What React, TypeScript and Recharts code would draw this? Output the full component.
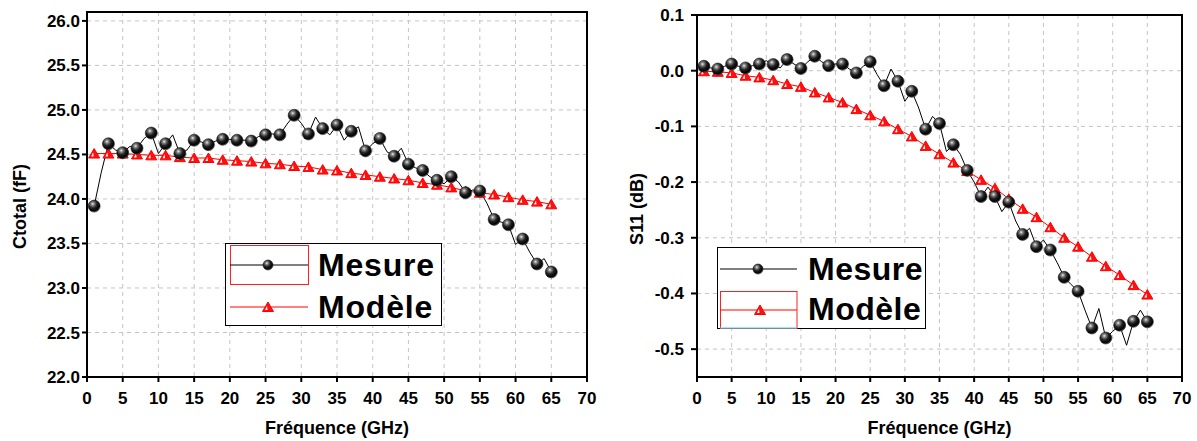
import { LineChart, Line, XAxis, YAxis, CartesianGrid, Legend, ReferenceArea } from 'recharts';

const freqs = [
    1, 2, 3, 4, 5, 6, 7, 8, 9, 10, 11, 12, 13, 14, 15, 16, 17, 18, 19, 20, 21, 22,
    23, 24, 25, 26, 27, 28, 29, 30, 31, 32, 33, 34, 35, 36, 37, 38, 39, 40, 41, 42, 43,
    44, 45, 46, 47, 48, 49, 50, 51, 52, 53, 54, 55, 56, 57, 58, 59, 60, 61, 62, 63, 64, 65,
];
const modelFreqs = [
    1, 3, 5, 7, 9, 11, 13, 15, 17, 19, 21, 23, 25, 27, 29, 31, 33, 35, 37, 39, 41, 43, 45,
    47, 49, 51, 53, 55, 57, 59, 61, 63, 65,
];

const ctotalMesure = [
    23.92, 24.3, 24.62, 24.55, 24.52, 24.59, 24.57, 24.68, 24.74, 24.51, 24.62, 24.72, 24.51,
    24.55, 24.66, 24.64, 24.61, 24.65, 24.67, 24.67, 24.66, 24.66, 24.65, 24.7, 24.72, 24.73,
    24.72, 24.84, 24.94, 24.85, 24.73, 24.92, 24.79, 24.72, 24.83, 24.66, 24.76, 24.81, 24.54,
    24.62, 24.68, 24.53, 24.48, 24.57, 24.39, 24.35, 24.32, 24.25, 24.21, 24.17, 24.25, 24.19,
    24.07, 24.1, 24.09, 23.95, 23.77, 23.74, 23.71, 23.49, 23.55, 23.4, 23.27, 23.33, 23.18,
];
const ctotalModele = [
    24.51, 24.51, 24.51, 24.5, 24.49, 24.49, 24.47, 24.46, 24.46, 24.44, 24.43, 24.42, 24.4,
    24.39, 24.37, 24.36, 24.33, 24.32, 24.29, 24.27, 24.25, 24.23, 24.21, 24.18, 24.16, 24.13,
    24.09, 24.07, 24.05, 24.02, 23.99, 23.97, 23.94,
];

const s11Mesure = [
    0.008, 0.005, 0.003, 0.008, 0.012, 0.008, 0.005, 0.009, 0.012, 0.018, 0.011, 0.005, 0.02,
    0.012, 0.004, 0.016, 0.026, 0.016, 0.009, 0.012, 0.012, 0.003, -0.004, 0.008, 0.016, -0.007,
    -0.027, 0.003, -0.019, -0.055, -0.037, -0.067, -0.105, -0.082, -0.095, -0.145, -0.133, -0.15,
    -0.179, -0.2, -0.226, -0.209, -0.226, -0.253, -0.236, -0.27, -0.294, -0.283, -0.316, -0.304,
    -0.322, -0.345, -0.371, -0.384, -0.396, -0.43, -0.462, -0.427, -0.48, -0.468, -0.457, -0.493,
    -0.45, -0.43, -0.451,
];
const s11Modele = [
    -0.001, -0.002, -0.004, -0.009, -0.012, -0.017, -0.024, -0.029, -0.039, -0.048, -0.057,
    -0.069, -0.08, -0.091, -0.105, -0.118, -0.135, -0.15, -0.165, -0.18, -0.196, -0.211, -0.23,
    -0.248, -0.263, -0.281, -0.3, -0.316, -0.334, -0.351, -0.367, -0.385, -0.402,
];

const xTicks = [0, 5, 10, 15, 20, 25, 30, 35, 40, 45, 50, 55, 60, 65, 70];
const ctotalTicks = [22, 22.5, 23, 23.5, 24, 24.5, 25, 25.5, 26];
const s11Ticks = [-0.5, -0.4, -0.3, -0.2, -0.1, 0, 0.1];

const FONT = '"Liberation Sans", Arial, sans-serif';
const tickStyle = { fill: '#000', fontSize: 17, fontWeight: 700, fontFamily: FONT };
const gridColor = '#c4c4c4';

function buildRows(mesure: number[], modele: number[]) {
    return freqs.map((f, i) => {
        const j = modelFreqs.indexOf(f);
        return { f, mesure: mesure[i], modele: j >= 0 ? modele[j] : null };
    });
}

const ctotalRows = buildRows(ctotalMesure, ctotalModele);
const s11Rows = buildRows(s11Mesure, s11Modele);

function Ball({ cx, cy, r = 6 }: { cx: number; cy: number; r?: number }) {
    return <circle cx={cx} cy={cy} r={r} fill="url(#ball)" stroke="#1a1a1a" strokeWidth={0.6} />;
}

function Tri({ cx, cy }: { cx: number; cy: number }) {
    return (
        <g>
            <polygon points={`${cx - 5.5},${cy + 4.5} ${cx + 5.5},${cy + 4.5} ${cx},${cy - 5}`} fill="#ff1010" stroke="#ff0000" strokeWidth={1} />
            <polygon points={`${cx - 3},${cy + 3} ${cx - 0.5},${cy + 3} ${cx - 1},${cy - 1}`} fill="#fff" />
        </g>
    );
}

const ballDot = (props: any) => {
    const { cx, cy, payload, index } = props;
    if (cx == null || cy == null || payload.f % 2 === 0) return <g key={`b${index}`} />;
    return <Ball key={`b${index}`} cx={cx} cy={cy} />;
};

const triDot = (props: any) => {
    const { cx, cy, payload, index } = props;
    if (cx == null || cy == null || payload.modele == null) return <g key={`t${index}`} />;
    return <Tri key={`t${index}`} cx={cx} cy={cy} />;
};

const xLabel = (text: string) => (props: any) => {
    const vb = props.viewBox;
    return (
        <text x={vb.x + vb.width / 2} y={vb.y + 57} textAnchor="middle" fill="#000" fontSize={18} fontWeight={700} fontFamily={FONT}>
            {text}
        </text>
    );
};

const yLabel = (text: string, x: number, shift: number) => (props: any) => {
    const vb = props.viewBox;
    const cy = vb.y + vb.height / 2 + shift;
    return (
        <text x={x} y={cy} transform={`rotate(-90 ${x} ${cy})`} textAnchor="middle" fill="#000" fontSize={18} fontWeight={700} fontFamily={FONT}>
            {text}
        </text>
    );
};

function LegendLeft() {
    return (
        <svg width={217} height={83} style={{ display: 'block' }}>
            <rect x={0.5} y={0.5} width={216} height={82} fill="#fff" stroke="#000" strokeWidth={1} />
            <rect x={5.5} y={2.5} width={78} height={39} fill="none" stroke="#ff2020" strokeWidth={1} />
            <line x1={5} x2={83} y1={22} y2={22} stroke="#000" strokeWidth={1} />
            <Ball cx={43} cy={22} r={5} />
            <line x1={5} x2={83} y1={64} y2={64} stroke="#ff0000" strokeWidth={1} />
            <Tri cx={43} cy={64} />
            <text x={93} y={33} fontSize={32} fontWeight={700} fontFamily={FONT} letterSpacing={0.8}>Mesure</text>
            <text x={93} y={75} fontSize={32} fontWeight={700} fontFamily={FONT} letterSpacing={0.8}>Modèle</text>
        </svg>
    );
}

function LegendRight() {
    return (
        <svg width={209} height={82} style={{ display: 'block' }}>
            <rect x={0.5} y={0.5} width={208} height={81} fill="#fff" stroke="#000" strokeWidth={1} />
            <line x1={3} x2={80} y1={22} y2={22} stroke="#000" strokeWidth={1} />
            <Ball cx={41} cy={22} r={5} />
            <rect x={3.5} y={44.5} width={76.5} height={37} fill="none" stroke="#ff2020" strokeWidth={1} />
            <line x1={3} x2={80} y1={63} y2={63} stroke="#ff0000" strokeWidth={1} />
            <line x1={3} x2={80} y1={81} y2={81} stroke="#20e0ff" strokeWidth={1} />
            <Tri cx={43} cy={63} />
            <text x={91} y={33} fontSize={32} fontWeight={700} fontFamily={FONT} letterSpacing={0.5}>Mesure</text>
            <text x={91} y={73} fontSize={32} fontWeight={700} fontFamily={FONT} letterSpacing={0.5}>Modèle</text>
        </svg>
    );
}

export default function App() {
    return (
        <div style={{ position: 'absolute', left: 0, top: 0, width: 1197, height: 441, background: '#fff', fontFamily: FONT }}>
            <svg width={0} height={0} style={{ position: 'absolute' }}>
                <defs>
                    <radialGradient id="ball" cx="38%" cy="32%" r="70%">
                        <stop offset="0%" stopColor="#f2f2f2" />
                        <stop offset="18%" stopColor="#8a8a8a" />
                        <stop offset="50%" stopColor="#222" />
                        <stop offset="85%" stopColor="#000" />
                        <stop offset="100%" stopColor="#555" />
                    </radialGradient>
                </defs>
            </svg>

            <div style={{ position: 'absolute', left: 0, top: 0 }}>
                <LineChart width={600} height={441} data={ctotalRows} margin={{ top: 12, right: 13, left: 0, bottom: 0 }}>
                    <CartesianGrid stroke={gridColor} strokeDasharray="4 4" />
                    <XAxis
                        dataKey="f"
                        type="number"
                        domain={[0, 70]}
                        ticks={xTicks}
                        height={64}
                        tick={tickStyle}
                        tickSize={5}
                        tickMargin={10}
                        axisLine={{ stroke: '#000', strokeWidth: 2 }}
                        tickLine={{ stroke: '#000', strokeWidth: 2 }}
                        label={{ content: xLabel('Fréquence (GHz)') }}
                    />
                    <YAxis
                        type="number"
                        domain={[22, 26.1]}
                        ticks={ctotalTicks}
                        width={87}
                        tick={tickStyle}
                        tickSize={5}
                        tickMargin={2}
                        tickFormatter={(v: number) => v.toFixed(1)}
                        axisLine={{ stroke: '#000', strokeWidth: 2 }}
                        tickLine={{ stroke: '#000', strokeWidth: 2 }}
                        label={{ content: yLabel('Ctotal (fF)', 26, 12) }}
                    />
                    <YAxis
                        yAxisId="r"
                        orientation="right"
                        mirror
                        type="number"
                        domain={[22, 26.1]}
                        ticks={ctotalTicks}
                        tickSize={5}
                        tickFormatter={() => ''}
                        axisLine={false}
                        tickLine={{ stroke: '#000', strokeWidth: 2 }}
                    />
                    <ReferenceArea x1={0} x2={70} y1={22} y2={26.1} fill="none" stroke="#000" strokeWidth={2} ifOverflow="visible" />
                    <Legend
                        layout="vertical"
                        align="center"
                        verticalAlign="middle"
                        wrapperStyle={{ left: 225, top: 243, width: 217, height: 83 }}
                        content={() => <LegendLeft />}
                    />
                    <Line
                        dataKey="modele"
                        type="linear"
                        stroke="#ff0000"
                        strokeWidth={1}
                        connectNulls
                        dot={triDot}
                        activeDot={false}
                        isAnimationActive={false}
                    />
                    <Line
                        dataKey="mesure"
                        type="linear"
                        stroke="#000"
                        strokeWidth={1}
                        dot={ballDot}
                        activeDot={false}
                        isAnimationActive={false}
                    />
                </LineChart>
            </div>

            <div style={{ position: 'absolute', left: 620, top: 0 }}>
                <LineChart width={577} height={441} data={s11Rows} margin={{ top: 15, right: 15, left: 0, bottom: 0 }}>
                    <CartesianGrid stroke={gridColor} strokeDasharray="4 4" />
                    <XAxis
                        dataKey="f"
                        type="number"
                        domain={[0, 70]}
                        ticks={xTicks}
                        height={64}
                        tick={tickStyle}
                        tickSize={5}
                        tickMargin={10}
                        axisLine={{ stroke: '#000', strokeWidth: 2 }}
                        tickLine={{ stroke: '#000', strokeWidth: 2 }}
                        label={{ content: xLabel('Fréquence (GHz)') }}
                    />
                    <YAxis
                        type="number"
                        domain={[-0.55, 0.1]}
                        ticks={s11Ticks}
                        width={77}
                        tick={tickStyle}
                        tickSize={6}
                        tickMargin={7}
                        tickFormatter={(v: number) => v.toFixed(1)}
                        axisLine={{ stroke: '#000', strokeWidth: 2 }}
                        tickLine={{ stroke: '#000', strokeWidth: 2 }}
                        label={{ content: yLabel('S11 (dB)', 23, 13) }}
                    />
                    <YAxis
                        yAxisId="r"
                        orientation="right"
                        mirror
                        type="number"
                        domain={[-0.55, 0.1]}
                        ticks={s11Ticks}
                        tickSize={5}
                        tickFormatter={() => ''}
                        axisLine={false}
                        tickLine={{ stroke: '#000', strokeWidth: 2 }}
                    />
                    <ReferenceArea x1={0} x2={70} y1={-0.55} y2={0.1} fill="none" stroke="#000" strokeWidth={2} ifOverflow="visible" />
                    <Legend
                        layout="vertical"
                        align="center"
                        verticalAlign="middle"
                        wrapperStyle={{ left: 97, top: 247, width: 209, height: 82 }}
                        content={() => <LegendRight />}
                    />
                    <Line
                        dataKey="modele"
                        type="linear"
                        stroke="#ff0000"
                        strokeWidth={1}
                        connectNulls
                        dot={triDot}
                        activeDot={false}
                        isAnimationActive={false}
                    />
                    <Line
                        dataKey="mesure"
                        type="linear"
                        stroke="#000"
                        strokeWidth={1}
                        dot={ballDot}
                        activeDot={false}
                        isAnimationActive={false}
                    />
                </LineChart>
            </div>
        </div>
    );
}
